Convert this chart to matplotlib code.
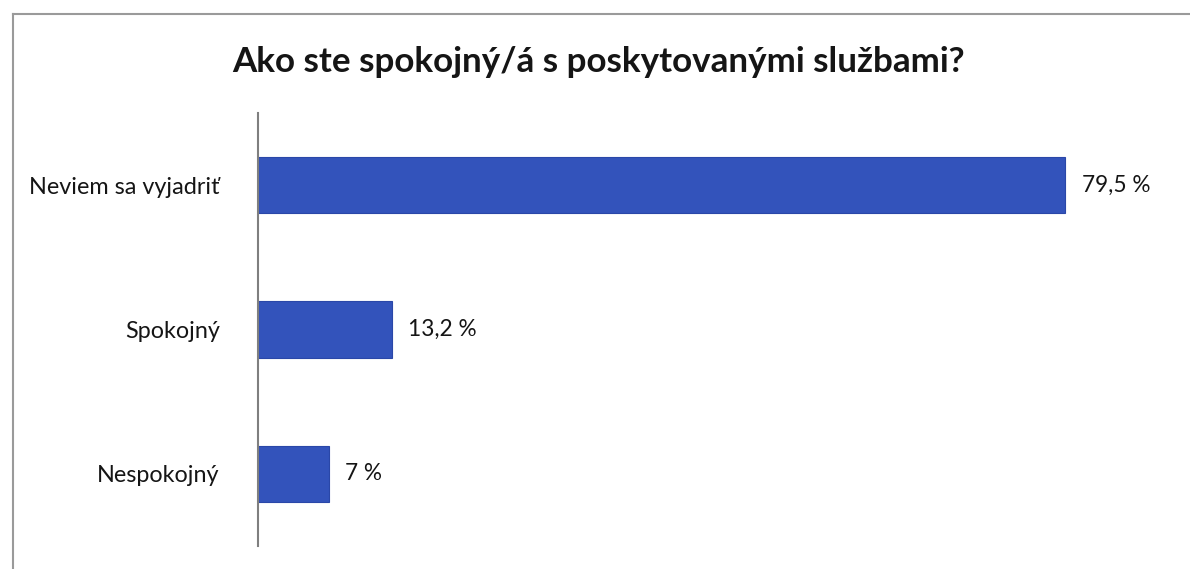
import matplotlib.pyplot as plt
from matplotlib.lines import Line2D

# data
categories = ['Neviem sa vyjadriť', 'Spokojný', 'Nespokojný']
values = [79.5, 13.2, 7.0]
value_labels = ['79,5 %', '13,2 %', '7 %']
title = 'Ako ste spokojný/á s poskytovanými službami?'

plt.rcParams['font.family'] = ['Lato', 'DejaVu Sans']

fig = plt.figure(figsize=(11.9, 5.69), dpi=100)
ax = fig.add_axes([258 / 1190, 1 - 546 / 569, (1172 - 258) / 1190, (546 - 113) / 569])

y = list(range(len(categories)))
ax.barh(y, values, height=0.39, color='#3353bb', edgecolor='#2a47a8', linewidth=0.8)
for yi, v, lab in zip(y, values, value_labels):
    ax.text(v + 1.6, yi, lab, va='center', ha='left', fontsize=16.3, color='#151515')

ax.set_ylim(2.5, -0.5)
ax.set_xlim(0, 90)
ax.set_yticks(y)
ax.set_yticklabels(categories, fontsize=16.8, color='#151515')
ax.tick_params(axis='y', length=0, pad=27.5)
ax.set_xticks([])
for s in ['top', 'right', 'bottom']:
    ax.spines[s].set_visible(False)
ax.spines['left'].set_color('#7f7f7f')
ax.spines['left'].set_linewidth(1.5)

fig.text(0.503, 1 - 62 / 569, title, ha='center', va='center', fontsize=25.2, fontweight='bold', color='#151515')

# scanned frame edges
fig.add_artist(Line2D([13 / 1190, 13 / 1190], [0, 1 - 14 / 569], color='#9a9a9a', linewidth=1.5))
fig.add_artist(Line2D([13 / 1190, 1], [1 - 14 / 569, 1 - 14 / 569], color='#9a9a9a', linewidth=1.5))

fig.savefig('out.png', dpi=100)
